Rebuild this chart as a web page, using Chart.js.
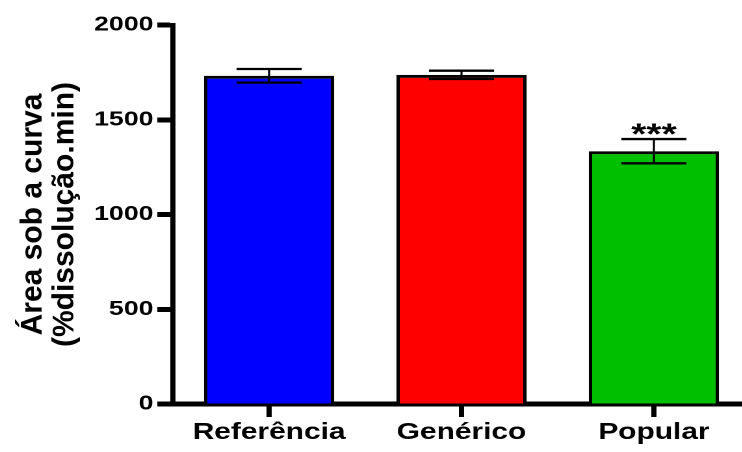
<!DOCTYPE html>
<html>
<head>
<meta charset="utf-8">
<script src="https://cdn.jsdelivr.net/npm/chart.js@4.4.0/dist/chart.umd.min.js"></script>
<style>
    html, body { margin: 0; padding: 0; background: #fff; overflow: hidden; }
    /* the reference is stretched sideways, text included */
    #wrap { width: 577px; height: 452px; transform: scaleX(1.3); transform-origin: 0 0; }
</style>
</head>
<body>
<div id="wrap"><canvas id="auc" width="577" height="452"></canvas></div>
<script>
var categories = ['Referência', 'Genérico', 'Popular'];
var auc = [1732, 1737, 1334];
var sem = [36, 22, 64];
var marks = ['', '', '***'];
var barColors = ['#0000ff', '#ff0000', '#00bf00'];
var yTicks = [0, 500, 1000, 1500, 2000];
var yTitle = ['Área sob a curva', '(%dissolução.min)'];

(function () {
    'use strict';

    var family = "'Liberation Sans', Arial, sans-serif",
        stretch = 1.3;

    // barras de erro + asteriscos
    var errorBars = {
        id: 'errorBars',
        afterDatasetsDraw: function (chart) {
            var ctx = chart.ctx, y = chart.scales.y;
            chart.getDatasetMeta(0).data.forEach(function (bar, i) {
                var top = y.getPixelForValue(auc[i] + sem[i]),
                    bot = y.getPixelForValue(auc[i] - sem[i]),
                    half = bar.width / 4;
                ctx.save();
                ctx.strokeStyle = '#000';
                ctx.lineWidth = 1.6;
                ctx.beginPath();
                ctx.moveTo(bar.x, top);
                ctx.lineTo(bar.x, bot);
                ctx.stroke();
                ctx.lineWidth = 2.3;
                ctx.beginPath();
                ctx.moveTo(bar.x - half, top);
                ctx.lineTo(bar.x + half, top);
                ctx.moveTo(bar.x - half, bot);
                ctx.lineTo(bar.x + half, bot);
                ctx.stroke();
                if (marks[i]) {
                    ctx.fillStyle = '#000';
                    ctx.font = 'bold 30px ' + family;
                    ctx.textAlign = 'center';
                    ctx.textBaseline = 'alphabetic';
                    var m = ctx.measureText(marks[i]),
                        centre = top - 9;
                    ctx.fillText(marks[i], bar.x, centre + (m.actualBoundingBoxAscent - m.actualBoundingBoxDescent) / 2);
                }
                ctx.restore();
            });
        }
    };

    // título do eixo y, sem o esticamento horizontal
    var axisTitle = {
        id: 'axisTitle',
        afterDraw: function (chart) {
            var ctx = chart.ctx, area = chart.chartArea,
                mid = (area.top + area.bottom) / 2,
                xs = [25.5, 50];
            ctx.save();
            ctx.fillStyle = '#000';
            ctx.font = 'bold 30px ' + family;
            ctx.textAlign = 'center';
            ctx.textBaseline = 'middle';
            yTitle.forEach(function (line, i) {
                ctx.save();
                ctx.translate(xs[i], mid);
                ctx.scale(1 / stretch, 1);
                ctx.rotate(-Math.PI / 2);
                ctx.fillText(line, 0, 0);
                ctx.restore();
            });
            ctx.restore();
        }
    };

    new Chart(document.getElementById('auc'), {
        type: 'bar',
        data: {
            labels: categories,
            datasets: [{
                data: auc,
                backgroundColor: barColors,
                borderColor: '#000',
                borderWidth: { top: 3, left: 2.6, right: 2.6, bottom: 0 },
                barPercentage: 0.677,
                categoryPercentage: 1
            }]
        },
        options: {
            responsive: false,
            devicePixelRatio: 2,
            animation: false,
            layout: { padding: { top: 25, left: 0, right: 0, bottom: 0 } },
            plugins: { legend: { display: false }, tooltip: { enabled: false } },
            scales: {
                x: {
                    grid: { drawOnChartArea: false, offset: false, tickLength: 13, tickWidth: 4, color: '#000' },
                    border: { color: '#000', width: 5 },
                    ticks: { color: '#000', padding: 2, font: { family: family, size: 23, weight: 'bold' } },
                    afterFit: function (s) { s.height = 48; }
                },
                y: {
                    min: 0,
                    max: 2000,
                    afterBuildTicks: function (s) {
                        s.ticks = yTicks.map(function (v) { return { value: v }; });
                    },
                    grid: { drawOnChartArea: false, tickLength: 12, tickWidth: 5, color: '#000' },
                    border: { color: '#000', width: 4 },
                    ticks: {
                        color: '#000',
                        padding: 3,
                        font: { family: family, size: 20.5, weight: 'bold' },
                        callback: function (v) { return String(v); }
                    },
                    afterFit: function (s) { s.width = 133; }
                }
            }
        },
        plugins: [errorBars, axisTitle]
    });
})();
</script>
</body>
</html>
